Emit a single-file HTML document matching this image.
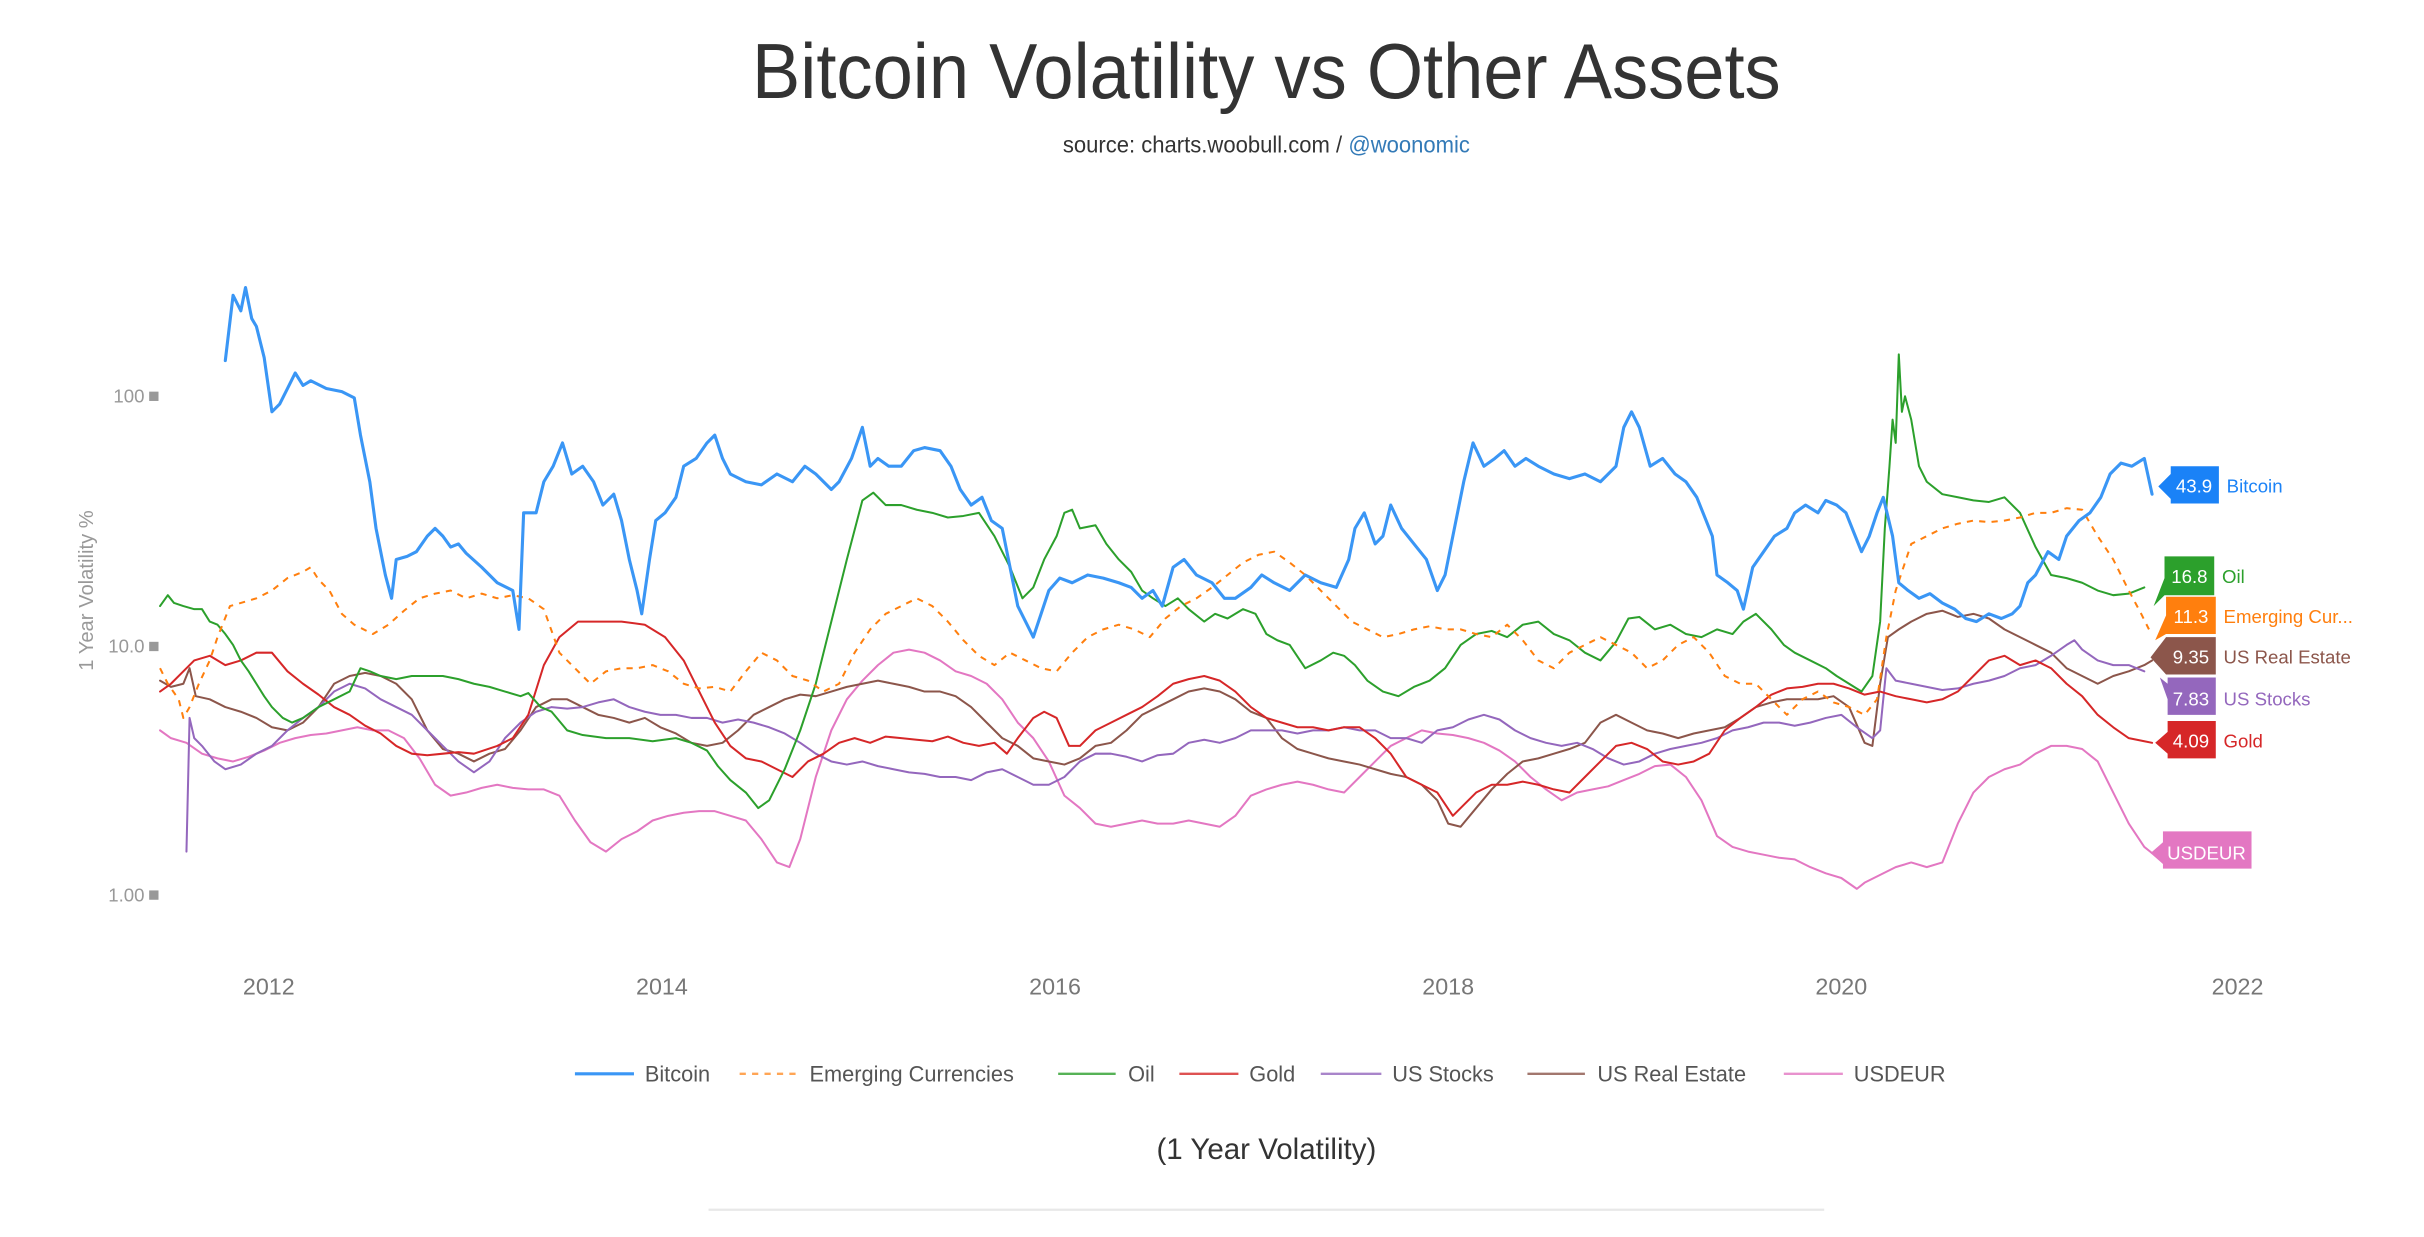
<!DOCTYPE html>
<html><head><meta charset="utf-8"><style>
html,body{margin:0;padding:0;background:#fff;}
svg{display:block;}
text{font-family:"Liberation Sans",sans-serif;}
</style></head><body>
<svg width="2424" height="1237" viewBox="0 0 1560 796" xmlns="http://www.w3.org/2000/svg">
<text x="815" y="63" text-anchor="middle" font-size="50" fill="#333" textLength="662" lengthAdjust="spacingAndGlyphs">Bitcoin Volatility vs Other Assets</text>
<text x="815" y="98" text-anchor="middle" font-size="15" fill="#333" textLength="262" lengthAdjust="spacingAndGlyphs">source: charts.woobull.com / <tspan fill="#337ab7">@woonomic</tspan></text>

<text x="93" y="259" text-anchor="end" font-size="12" fill="#999">100</text>
<rect x="96" y="252" width="6" height="6" fill="#999"/>
<text x="93" y="420" text-anchor="end" font-size="12" fill="#999">10.0</text>
<rect x="96" y="413" width="6" height="6" fill="#999"/>
<text x="93" y="580" text-anchor="end" font-size="12" fill="#999">1.00</text>
<rect x="96" y="573" width="6" height="6" fill="#999"/>
<text transform="translate(60,380) rotate(-90)" text-anchor="middle" font-size="13" fill="#999">1 Year Volatility %</text>

<g font-size="15" fill="#777" text-anchor="middle">
<text x="173" y="640">2012</text><text x="426" y="640">2014</text><text x="679" y="640">2016</text>
<text x="932" y="640">2018</text><text x="1185" y="640">2020</text><text x="1440" y="640">2022</text>
</g>

<g fill="none" stroke-linejoin="round" stroke-linecap="round">
<polyline stroke="#e377c2" stroke-width="1.3" points="103,470 110,475 120,478 130,485 140,488 150,490 160,487 170,483 180,478 190,475 200,473 210,472 220,470 230,468 240,470 250,470 260,475 270,488 280,505 290,512 300,510 310,507 320,505 330,507 340,508 350,508 360,512 370,528 380,542 390,548 400,540 410,535 420,528 430,525 440,523 450,522 460,522 470,525 480,528 490,540 500,555 508,558 515,540 525,500 535,470 545,450 555,438 565,428 575,420 585,418 595,420 605,425 615,432 625,435 635,440 645,450 655,465 665,475 675,490 685,512 695,520 705,530 715,532 725,530 735,528 745,530 755,530 765,528 775,530 785,532 795,525 805,512 815,508 825,505 835,503 845,505 855,508 865,510 875,500 885,490 895,480 905,475 915,470 925,472 935,473 945,475 955,478 965,483 975,490 985,500 995,508 1005,515 1015,510 1025,508 1035,506 1045,502 1055,498 1065,493 1075,492 1085,500 1095,515 1105,538 1115,545 1125,548 1135,550 1145,552 1155,553 1165,558 1175,562 1185,565 1195,572 1200,568 1210,563 1220,558 1230,555 1240,558 1250,555 1260,530 1270,510 1280,500 1290,495 1300,492 1310,485 1320,480 1330,480 1340,482 1350,490 1360,510 1370,530 1380,545 1385,549"/>
<polyline stroke="#8c564b" stroke-width="1.3" points="103,438 110,442 118,440 122,430 126,448 135,450 145,455 155,458 165,462 175,468 185,470 195,465 205,455 215,440 225,435 235,433 245,435 255,440 265,450 275,470 285,482 295,485 305,490 315,485 325,482 335,470 345,455 355,450 365,450 375,455 385,460 395,462 405,465 415,462 425,468 435,472 445,478 455,480 465,478 475,470 485,460 495,455 505,450 515,447 525,448 535,445 545,442 555,440 565,438 575,440 585,442 595,445 605,445 615,448 625,455 635,465 645,475 655,480 665,488 675,490 685,492 695,488 705,480 715,478 725,470 735,460 745,455 755,450 765,445 775,443 785,445 795,450 805,458 815,462 825,475 835,482 845,485 855,488 865,490 875,492 885,495 895,498 905,500 915,505 925,515 932,530 940,532 950,520 960,508 970,498 980,490 990,488 1000,485 1010,482 1020,478 1030,465 1040,460 1050,465 1060,470 1070,472 1080,475 1090,472 1100,470 1110,468 1120,462 1130,455 1140,452 1150,450 1160,450 1170,450 1180,448 1190,455 1200,478 1205,480 1210,440 1215,410 1222,405 1230,400 1240,395 1250,393 1260,397 1270,395 1280,398 1290,405 1300,410 1310,415 1320,420 1330,430 1340,435 1350,440 1360,435 1370,432 1380,428 1385,425"/>
<polyline stroke="#9467bd" stroke-width="1.3" points="120,548 122,462 125,475 130,480 138,490 145,495 155,492 165,485 175,480 185,470 195,462 205,455 215,445 225,440 235,443 245,450 255,455 265,460 275,470 285,480 295,490 305,497 315,490 325,475 335,465 345,458 355,455 365,456 375,455 385,452 395,450 405,455 415,458 425,460 435,460 445,462 455,462 465,465 475,463 485,465 495,468 505,472 515,478 525,485 535,490 545,492 555,490 565,493 575,495 585,497 595,498 605,500 615,500 625,502 635,497 645,495 655,500 665,505 675,505 685,500 695,490 705,485 715,485 725,487 735,490 745,486 755,485 765,478 775,476 785,478 795,475 805,470 815,470 825,470 835,472 845,470 855,470 865,468 875,470 885,470 895,475 905,475 915,478 925,470 935,468 945,463 955,460 965,463 975,470 985,475 995,478 1005,480 1015,478 1025,482 1035,488 1045,492 1055,490 1065,485 1075,482 1085,480 1095,478 1105,475 1115,470 1125,468 1135,465 1145,465 1155,467 1165,465 1175,462 1185,460 1195,468 1205,475 1210,470 1214,430 1220,438 1230,440 1240,442 1250,444 1260,443 1270,440 1280,438 1290,435 1300,430 1310,428 1320,422 1330,415 1335,412 1340,418 1350,425 1360,428 1370,428 1380,432"/>
<polyline stroke="#d62728" stroke-width="1.3" points="103,445 110,440 118,432 125,425 135,422 145,428 155,425 165,420 175,420 185,432 195,440 205,447 215,455 225,460 235,467 245,472 255,480 265,485 275,486 285,485 295,484 305,485 320,480 330,475 340,460 350,428 360,410 372,400 385,400 400,400 415,402 428,410 440,425 450,445 460,465 470,480 480,488 490,490 500,495 510,500 520,490 530,485 540,478 550,475 560,478 570,474 580,475 590,476 600,477 610,474 620,478 630,480 640,478 648,485 655,475 665,462 672,458 680,462 688,480 695,480 705,470 715,465 725,460 735,455 745,448 755,440 765,437 775,435 785,438 795,445 805,455 815,462 825,465 835,468 845,468 855,470 865,468 875,468 885,475 895,485 905,500 915,505 925,510 935,525 942,518 950,510 960,505 970,505 980,503 990,505 1000,508 1010,510 1020,500 1030,490 1040,480 1050,478 1060,482 1070,490 1080,492 1090,490 1100,485 1110,470 1120,462 1130,455 1140,447 1150,443 1160,442 1170,440 1180,440 1190,443 1200,447 1210,445 1220,448 1230,450 1240,452 1250,450 1260,445 1270,435 1280,425 1290,422 1300,428 1310,425 1320,430 1330,440 1340,448 1350,460 1360,468 1370,475 1380,477 1385,478"/>
<polyline stroke="#2ca02c" stroke-width="1.3" points="103,390 108,383 112,388 118,390 125,392 130,392 135,400 140,402 145,408 150,415 155,425 160,432 165,440 170,448 175,455 182,462 188,465 195,462 205,455 215,450 225,445 232,430 238,432 245,435 255,437 265,435 275,435 285,435 295,437 305,440 315,442 325,445 335,448 340,446 348,455 355,458 365,470 375,473 390,475 405,475 420,477 435,475 445,478 455,483 462,493 470,502 480,510 488,520 495,515 505,495 515,470 525,440 535,400 545,360 555,322 562,317 570,325 580,325 590,328 600,330 610,333 620,332 630,330 640,345 650,365 658,385 665,378 672,360 680,345 685,330 690,328 695,340 705,338 712,350 720,360 728,368 735,380 742,385 750,390 758,385 765,392 775,400 782,395 790,398 800,392 808,395 815,408 822,412 830,415 840,430 850,425 858,420 865,422 872,428 880,438 890,445 900,448 910,442 920,438 930,430 940,415 950,408 960,406 970,410 980,402 990,400 1000,408 1010,412 1020,420 1030,425 1040,413 1048,398 1055,397 1065,405 1075,402 1085,408 1095,410 1105,405 1115,408 1122,400 1130,395 1140,405 1148,415 1155,420 1165,425 1175,430 1182,435 1190,440 1198,445 1205,435 1210,400 1213,340 1216,300 1218,270 1220,285 1222,228 1224,265 1226,255 1230,270 1235,300 1240,310 1250,318 1260,320 1270,322 1280,323 1290,320 1300,330 1310,352 1320,370 1330,372 1340,375 1350,380 1360,383 1370,382 1380,378"/>
<polyline stroke="#ff7f0e" stroke-width="1.3" stroke-dasharray="4,4" stroke-linecap="butt" points="103,430 108,440 115,450 118,462 122,455 128,440 135,425 140,410 148,390 155,388 165,385 175,380 185,372 195,368 200,365 205,373 212,380 220,395 228,402 240,408 250,402 260,393 270,385 280,382 290,380 300,385 310,382 320,385 330,383 340,385 350,392 360,420 370,430 380,440 390,432 400,430 410,430 420,428 430,432 440,440 450,443 460,442 470,445 480,432 490,420 500,425 510,435 520,438 530,445 540,440 550,420 560,405 570,395 580,390 590,385 600,390 610,400 620,412 630,422 640,428 650,420 660,425 670,430 680,432 690,420 700,410 710,405 720,402 730,405 740,410 750,398 760,390 770,385 780,378 790,370 800,362 810,357 820,355 830,362 840,370 850,380 860,390 870,400 880,405 890,410 900,408 910,405 920,403 930,405 940,405 950,408 960,410 970,402 980,412 990,425 1000,430 1010,420 1020,415 1030,410 1040,415 1050,420 1060,430 1070,425 1080,415 1090,410 1100,420 1110,435 1120,440 1130,440 1140,450 1150,460 1160,450 1170,445 1180,452 1190,455 1200,460 1208,450 1214,410 1220,380 1230,350 1240,345 1250,340 1260,337 1270,335 1280,336 1290,335 1300,333 1310,330 1320,330 1330,327 1340,328 1350,345 1360,360 1370,380 1378,395 1383,405"/>
<polyline stroke="#3a96f5" stroke-width="2" points="145,232 150,190 155,200 158,185 162,205 165,210 170,230 175,265 180,260 185,250 190,240 195,248 200,245 210,250 220,252 228,256 232,280 238,310 242,340 248,370 252,385 255,360 262,358 268,355 275,345 280,340 285,345 290,352 295,350 300,356 310,365 320,375 330,380 334,405 337,330 345,330 350,310 356,300 362,285 368,305 375,300 382,310 388,325 395,318 400,335 405,360 410,380 413,395 418,360 422,335 428,330 435,320 440,300 448,295 455,285 460,280 465,295 470,305 480,310 490,312 500,305 510,310 518,300 525,305 535,315 540,310 548,295 555,275 560,300 565,295 572,300 580,300 588,290 595,288 605,290 612,300 618,315 625,325 632,320 638,335 645,340 650,365 655,390 660,400 665,410 670,395 675,380 682,372 690,375 700,370 710,372 720,375 728,378 735,385 742,380 748,390 755,365 762,360 770,370 780,375 788,385 795,385 805,378 812,370 820,375 830,380 840,370 850,375 860,378 868,360 872,340 878,330 885,350 890,345 895,325 902,340 910,350 918,360 925,380 930,370 936,340 942,310 948,285 955,300 962,295 968,290 975,300 982,295 990,300 1000,305 1010,308 1020,305 1030,310 1040,300 1045,275 1050,265 1055,275 1062,300 1070,295 1078,305 1085,310 1092,320 1098,335 1102,345 1105,370 1112,375 1118,380 1122,392 1128,365 1135,355 1142,345 1150,340 1155,330 1162,325 1170,330 1175,322 1182,325 1188,330 1192,340 1198,355 1203,345 1208,330 1212,320 1218,345 1222,375 1228,380 1235,385 1242,382 1250,388 1258,392 1265,398 1272,400 1280,395 1288,398 1295,395 1300,390 1305,375 1310,370 1318,355 1325,360 1330,345 1338,335 1345,330 1352,320 1358,305 1365,298 1372,300 1380,295 1385,318"/>
</g>

<g font-size="12">
<polygon points="1389,313 1397,305 1397,300 1428,300 1428,324 1397,324 1397,321" fill="#1a82f7"/>
<text x="1412" y="317" text-anchor="middle" fill="#fff">43.9</text>
<text x="1433" y="317" fill="#1a82f7">Bitcoin</text>

<polygon points="1386,390 1393,372 1393,358 1425,358 1425,383 1393,383" fill="#2ca02c"/>
<text x="1409" y="375" text-anchor="middle" fill="#fff">16.8</text>
<text x="1430" y="375" fill="#2ca02c">Oil</text>

<polygon points="1387,412 1394,396 1394,384 1426,384 1426,408 1394,408" fill="#ff7f0e"/>
<text x="1410" y="401" text-anchor="middle" fill="#fff">11.3</text>
<text x="1431" y="401" fill="#ff7f0e">Emerging Cur...</text>

<polygon points="1384,423 1394,410 1426,410 1426,434 1394,434" fill="#8c564b"/>
<text x="1410" y="427" text-anchor="middle" fill="#fff">9.35</text>
<text x="1431" y="427" fill="#8c564b">US Real Estate</text>

<polygon points="1390,436 1395,450 1395,460 1426,460 1426,436 1395,436 1395,440" fill="#9467bd"/>
<text x="1410" y="454" text-anchor="middle" fill="#fff">7.83</text>
<text x="1431" y="454" fill="#9467bd">US Stocks</text>

<polygon points="1387,478 1395,471 1395,464 1426,464 1426,488 1395,488 1395,485" fill="#d62728"/>
<text x="1410" y="481" text-anchor="middle" fill="#fff">4.09</text>
<text x="1431" y="481" fill="#d62728">Gold</text>

<polygon points="1384,549 1392,542 1392,535 1449,535 1449,559 1392,559 1392,556" fill="#e377c2"/>
<text x="1420" y="553" text-anchor="middle" fill="#fff">USDEUR</text>
</g>

<g font-size="14" fill="#555">
<line x1="370" y1="691" x2="408" y2="691" stroke="#3a96f5" stroke-width="2"/><text x="415" y="696">Bitcoin</text>
<line x1="476" y1="691" x2="513" y2="691" stroke="#ff7f0e" stroke-width="1.5" stroke-dasharray="4,4" opacity="0.7"/><text x="521" y="696">Emerging Currencies</text>
<line x1="681" y1="691" x2="718" y2="691" stroke="#2ca02c" stroke-width="1.5" opacity="0.8"/><text x="726" y="696">Oil</text>
<line x1="759" y1="691" x2="797" y2="691" stroke="#d62728" stroke-width="1.5" opacity="0.8"/><text x="804" y="696">Gold</text>
<line x1="850" y1="691" x2="889" y2="691" stroke="#9467bd" stroke-width="1.5" opacity="0.8"/><text x="896" y="696">US Stocks</text>
<line x1="983" y1="691" x2="1020" y2="691" stroke="#8c564b" stroke-width="1.5" opacity="0.8"/><text x="1028" y="696">US Real Estate</text>
<line x1="1148" y1="691" x2="1186" y2="691" stroke="#e377c2" stroke-width="1.5" opacity="0.8"/><text x="1193" y="696">USDEUR</text>
</g>
<text x="815" y="746" text-anchor="middle" font-size="19" fill="#333">(1 Year Volatility)</text>
<line x1="456" y1="778.5" x2="1174" y2="778.5" stroke="#e8e8e8" stroke-width="1.5"/>
</svg>
</body></html>
